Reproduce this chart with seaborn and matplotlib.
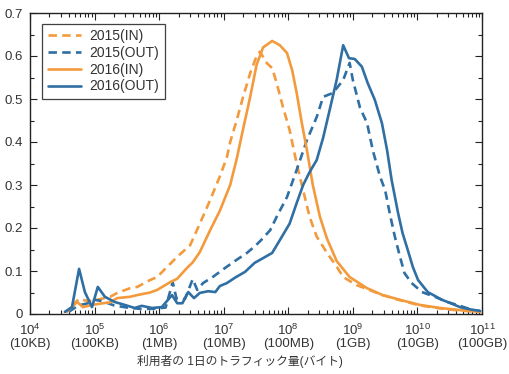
#!/usr/bin/env python3
# daily traffic per user distribution, 2015 vs 2016, IN/OUT
import numpy as np
import pandas as pd
import seaborn as sns
import matplotlib.pyplot as plt
from matplotlib.ticker import LogLocator, NullFormatter, MultipleLocator

# x values are log10(bytes)
in15_x = [4.65, 4.76, 4.90, 5.04, 5.24, 5.35, 5.55, 5.66, 5.86, 5.97, 6.06, 6.28, 6.48, 6.63, 6.79, 6.94,
          7.05, 7.10, 7.20, 7.30, 7.41, 7.51, 7.56, 7.67, 7.75, 7.82, 7.92, 8.02, 8.13, 8.23, 8.33, 8.44,
          8.60, 8.75, 8.85, 9.06, 9.22, 9.46, 9.73, 10.04, 10.35, 10.66, 10.97]
in15_y = [0.020, 0.035, 0.030, 0.033, 0.040, 0.049, 0.060, 0.063, 0.079, 0.086, 0.100, 0.133, 0.160, 0.210,
          0.265, 0.320, 0.365, 0.400, 0.450, 0.505, 0.560, 0.600, 0.610, 0.583, 0.572, 0.537, 0.480, 0.428,
          0.350, 0.288, 0.226, 0.180, 0.142, 0.110, 0.086, 0.067, 0.058, 0.044, 0.032, 0.020, 0.013, 0.008,
          0.005]

out15_x = [4.60, 4.75, 4.90, 5.00, 5.12, 5.30, 5.50, 5.70, 5.90, 6.10, 6.21, 6.27, 6.40, 6.52, 6.59, 6.68,
           6.83, 7.02, 7.20, 7.36, 7.50, 7.58, 7.72, 7.82, 7.98, 8.13, 8.29, 8.44, 8.54, 8.69, 8.85, 8.95,
           9.00, 9.11, 9.22, 9.31, 9.42, 9.50, 9.57, 9.65, 9.73, 9.80, 9.91, 10.07, 10.27, 10.46, 10.66,
           10.86, 10.97]
out15_y = [0.005, 0.020, 0.025, 0.033, 0.030, 0.020, 0.015, 0.012, 0.012, 0.015, 0.074, 0.035, 0.035, 0.081,
           0.056, 0.072, 0.086, 0.107, 0.126, 0.142, 0.160, 0.172, 0.195, 0.226, 0.272, 0.335, 0.405, 0.458,
           0.505, 0.514, 0.544, 0.584, 0.544, 0.480, 0.444, 0.380, 0.320, 0.288, 0.235, 0.180, 0.133, 0.095,
           0.072, 0.051, 0.040, 0.028, 0.019, 0.009, 0.007]

in16_x = [4.57, 4.73, 4.82, 4.93, 5.04, 5.13, 5.24, 5.35, 5.55, 5.66, 5.86, 5.97, 6.17, 6.28, 6.43, 6.52,
          6.63, 6.79, 6.94, 7.10, 7.20, 7.30, 7.41, 7.51, 7.61, 7.75, 7.87, 7.98, 8.06, 8.13, 8.21, 8.29,
          8.38, 8.49, 8.60, 8.75, 8.95, 9.22, 9.46, 9.73, 10.04, 10.35, 10.66, 10.97]
in16_y = [0.005, 0.028, 0.016, 0.020, 0.023, 0.025, 0.027, 0.037, 0.040, 0.044, 0.050, 0.056, 0.074, 0.082,
          0.107, 0.120, 0.144, 0.195, 0.240, 0.300, 0.360, 0.430, 0.505, 0.580, 0.620, 0.635, 0.625, 0.607,
          0.567, 0.514, 0.444, 0.380, 0.300, 0.226, 0.175, 0.123, 0.086, 0.060, 0.044, 0.033, 0.021, 0.014,
          0.009, 0.005]

out16_x = [4.54, 4.65, 4.76, 4.85, 4.96, 5.05, 5.16, 5.31, 5.47, 5.62, 5.73, 5.89, 6.04, 6.20, 6.28, 6.36,
           6.45, 6.54, 6.63, 6.76, 6.87, 6.94, 7.05, 7.17, 7.33, 7.48, 7.61, 7.75, 7.87, 8.02, 8.13, 8.23,
           8.33, 8.44, 8.54, 8.64, 8.75, 8.85, 8.94, 9.03, 9.14, 9.23, 9.34, 9.45, 9.53, 9.60, 9.70, 9.77,
           9.85, 9.93, 10.01, 10.16, 10.38, 10.50, 10.66, 10.81, 10.97]
out16_y = [0.005, 0.016, 0.105, 0.051, 0.016, 0.063, 0.040, 0.028, 0.021, 0.014, 0.019, 0.014, 0.016, 0.044,
           0.025, 0.025, 0.051, 0.037, 0.049, 0.053, 0.051, 0.065, 0.072, 0.084, 0.098, 0.119, 0.130, 0.142,
           0.172, 0.210, 0.258, 0.300, 0.330, 0.358, 0.410, 0.474, 0.545, 0.625, 0.595, 0.593, 0.575, 0.537,
           0.498, 0.444, 0.381, 0.312, 0.235, 0.188, 0.149, 0.109, 0.079, 0.051, 0.033, 0.026, 0.016, 0.011,
           0.007]

series_names = ['2015(IN)', '2015(OUT)', '2016(IN)', '2016(OUT)']
size_labels = ['10KB', '100KB', '1MB', '10MB', '100MB', '1GB', '10GB', '100GB']
y_labels = ['0', '0.1', '0.2', '0.3', '0.4', '0.5', '0.6', '0.7']
xlabel = '利用者の 1日のトラフィック量(バイト)'

orange = '#F39A3D'
blue = '#2F6FA3'

sns.set_style('ticks')
plt.rcParams['font.family'] = ['Liberation Sans', 'Noto Sans CJK JP', 'DejaVu Sans']
plt.rcParams['mathtext.fontset'] = 'custom'
plt.rcParams['mathtext.rm'] = 'Liberation Sans'
plt.rcParams['mathtext.it'] = 'Liberation Sans'

fig = plt.figure(figsize=(5.1, 3.74), dpi=100)
ax = fig.add_axes([30 / 510, 1 - 314 / 374, 452 / 510, 301 / 374])

data = [(in15_x, in15_y, orange, True), (out15_x, out15_y, blue, True),
        (in16_x, in16_y, orange, False), (out16_x, out16_y, blue, False)]
for name, (lx, ly, col, dashed) in zip(series_names, data):
    df = pd.DataFrame({'bytes': 10 ** np.array(lx), 'ratio': ly})
    sns.lineplot(data=df, x='bytes', y='ratio', ax=ax, color=col, lw=1.9,
                 label=name, sort=False)
    if dashed:
        ax.lines[-1].set_dashes((3.2, 2.0))

ax.set_xscale('log')
ax.set_xlim(1e4, 1e11)
ax.set_ylim(0, 0.7)

ax.set_xticks([10.0 ** k for k in range(4, 12)])
ax.set_xticklabels(['$10^{%d}$\n(%s)' % (k, s) for k, s in zip(range(4, 12), size_labels)],
                   fontsize=9.5, color='#333333', linespacing=1.1)
ax.xaxis.set_minor_locator(LogLocator(base=10, subs=np.arange(2, 10), numticks=20))
ax.xaxis.set_minor_formatter(NullFormatter())
ax.set_yticks(np.arange(0, 0.71, 0.1))
ax.set_yticklabels(y_labels, fontsize=9.5, color='#333333')
ax.yaxis.set_minor_locator(MultipleLocator(0.05))

ax.tick_params(which='both', direction='in', top=True, right=True, color='#222222', width=0.8)
ax.tick_params(which='major', length=5)
ax.tick_params(axis='x', which='major', pad=6)
ax.tick_params(axis='y', which='major', pad=5)
ax.tick_params(which='minor', length=3)
for sp in ax.spines.values():
    sp.set_visible(True)
    sp.set_color('#222222')
    sp.set_linewidth(1.0)

ax.set_xlabel(xlabel, fontsize=8.5, color='#333333')
ax.xaxis.set_label_coords(0.465, -0.135)
ax.set_ylabel('')

leg = ax.legend(loc='upper left', bbox_to_anchor=(0.027, 0.965), borderaxespad=0,
                fontsize=10, frameon=True, fancybox=False, edgecolor='#111111',
                handlelength=2.4, handletextpad=0.6, labelspacing=0.2, borderpad=0.4)
leg.get_frame().set_linewidth(0.9)
for t in leg.get_texts():
    t.set_color('#333333')

fig.savefig('out.png', dpi=100)
